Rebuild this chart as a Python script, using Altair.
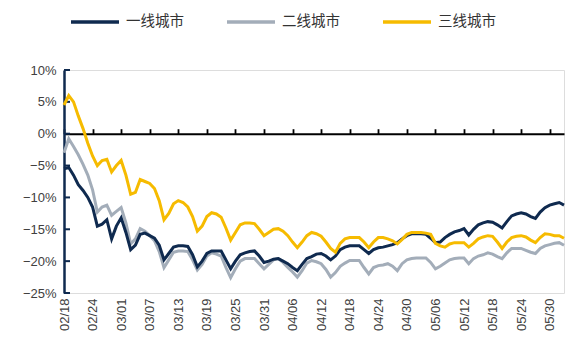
import altair as alt
import pandas as pd

start = "2020-02-18"
n_days = 106
series_names = ["一线城市", "二线城市", "三线城市"]
colors = ["#0f2a4f", "#a3adb9", "#f6bb00"]

tier1 = [-5.5, -5.3, -6.5, -8.0, -8.9, -10.0, -11.5, -14.5, -14.2, -13.5,
         -16.5, -14.5, -13.2, -15.5, -18.2, -17.5, -15.8, -15.6, -16.0, -16.4,
         -17.5, -19.8, -18.8, -17.8, -17.6, -17.6, -17.7, -19.0, -20.9, -20.0,
         -18.8, -18.4, -18.4, -18.4, -19.8, -21.2, -20.0, -19.0, -18.7, -18.5,
         -18.4, -19.2, -20.2, -20.0, -19.7, -19.6, -20.0, -20.4, -21.0, -21.5,
         -20.5, -19.6, -19.3, -18.9, -18.8, -19.2, -19.8, -19.2, -18.2, -17.8,
         -17.6, -17.6, -17.6, -18.2, -18.8, -18.2, -17.9, -17.8, -17.6, -17.4,
         -17.1, -16.5, -16.0, -15.7, -15.7, -15.7, -15.8, -16.4, -17.1, -17.0,
         -16.3, -15.8, -15.4, -15.2, -14.9, -15.9, -15.0, -14.3, -14.0, -13.8,
         -13.9, -14.3, -14.8, -13.8, -12.9, -12.6, -12.4, -12.6, -13.0, -13.3,
         -12.3, -11.6, -11.2, -11.0, -10.8, -11.2]

tier2 = [-3.0, -0.8, -2.0, -3.3, -4.8, -6.5, -8.8, -12.3, -11.5, -11.2,
         -12.8, -12.2, -11.6, -14.0, -17.3, -16.5, -14.9, -15.3, -16.0, -16.8,
         -18.5, -21.0, -19.8, -18.6, -18.4, -18.4, -18.5, -19.8, -21.4, -20.5,
         -19.2, -18.7, -18.9, -19.2, -21.0, -22.6, -21.2, -20.0, -19.6, -19.6,
         -19.6, -20.4, -21.2, -20.5, -19.8, -19.6, -20.2, -21.0, -21.7, -22.5,
         -21.5, -20.3, -19.9, -20.1, -20.4, -21.3, -22.5, -21.8, -20.8, -20.3,
         -19.9, -19.9, -19.9, -21.0, -22.0, -21.0, -20.7, -20.6, -20.4, -20.8,
         -21.5, -20.4, -19.8, -19.6, -19.5, -19.5, -19.5, -20.2, -21.2, -20.8,
         -20.3, -19.8, -19.6, -19.5, -19.5, -20.4, -19.6, -19.2, -19.0, -18.7,
         -18.9, -19.3, -19.6, -18.7, -18.0, -18.0, -18.0, -18.3, -18.6, -18.8,
         -18.0, -17.6, -17.4, -17.2, -17.1, -17.5]

tier3 = [4.5, 6.0, 5.0, 2.8, 0.8, -1.5, -3.5, -5.0, -4.2, -4.0,
         -6.0, -5.0, -4.2, -6.5, -9.5, -9.2, -7.2, -7.5, -7.8, -8.6,
         -10.5, -13.5, -12.5, -11.0, -10.5, -10.8, -11.5, -13.0, -15.3, -14.5,
         -13.0, -12.4, -12.6, -13.1, -14.8, -16.7, -15.5, -14.3, -14.0, -14.0,
         -14.1, -15.0, -16.0, -15.5, -15.0, -14.9, -15.3, -16.0, -17.0, -17.9,
         -17.0, -16.0, -15.5, -15.7, -16.1, -17.0, -18.0, -18.6, -17.2, -16.5,
         -16.3, -16.3, -16.3, -17.0, -17.9, -17.0, -16.3, -16.3, -16.5, -16.8,
         -17.3, -16.6, -15.8, -15.5, -15.5, -15.5, -15.6, -15.8, -17.2, -17.6,
         -17.8, -17.3, -17.1, -17.1, -17.1, -17.8, -17.2, -16.5, -16.2, -16.0,
         -16.1, -17.0, -18.0, -17.0, -16.3, -16.1, -16.0, -16.2, -16.7, -17.1,
         -16.3, -15.7, -15.8, -16.0, -16.0, -16.4]

y_ticks = [10, 5, 0, -5, -10, -15, -20, -25]
y_min, y_max = -25, 10
plot_w, plot_h = 500, 223

dates = pd.date_range(start, periods=n_days)
date_str = [d.strftime("%Y-%m-%dT00:00:00") for d in dates]
tick_idx = list(range(0, n_days, 6))
tick_dt = [alt.DateTime(year=int(dates[i].year), month=int(dates[i].month),
                        date=int(dates[i].day)) for i in tick_idx]

rows = []
for name, vals in zip(series_names, [tier1, tier2, tier3]):
    for d, v in zip(date_str, vals):
        rows.append({"date": d, "series": name, "value": v})
df = pd.DataFrame(rows)

ytick_df = pd.DataFrame({"v": y_ticks})

xscale = alt.Scale(domain=[date_str[0], date_str[-1]])
yscale = alt.Scale(domain=[y_min, y_max], nice=False)

x_axis = alt.Axis(values=tick_dt, format="%m/%d", labelAngle=-90,
                  domain=False, ticks=False, grid=False, labelPadding=5,
                  labelOverlap=False, title=None)
# zero-line axis: a top axis shifted down onto y = 0, ticks pointing up
zero_offset = -plot_h * y_max / (y_max - y_min)
x_zero_axis = alt.Axis(values=tick_dt, orient="top", offset=zero_offset,
                       labels=False, grid=False, domain=True, domainColor="black",
                       domainWidth=2, ticks=True, tickColor="black", tickWidth=1.8,
                       tickSize=5, title=None)
y_axis = alt.Axis(values=y_ticks, labelExpr="format(datum.value/100, '.0%')",
                  domainColor="#0f2a4f", domainWidth=2.5, ticks=False,
                  grid=False, labelPadding=8, labelOverlap=False, title=None)

color_enc = alt.Color("series:N",
                      scale=alt.Scale(domain=series_names, range=colors),
                      legend=alt.Legend(title=None, orient="none", direction="horizontal",
                                        legendX=5, legendY=-74,
                                        symbolType="stroke", symbolSize=2304,
                                        symbolStrokeWidth=3.5, labelFontSize=14.5,
                                        labelFont="Noto Sans CJK SC", labelColor="#333333",
                                        labelOffset=5, columnPadding=36))

base = alt.Chart(df).encode(
    x=alt.X("date:T", scale=xscale, axis=x_axis),
    y=alt.Y("value:Q", scale=yscale, axis=y_axis),
    color=color_enc)

lines = alt.layer(*[base.transform_filter(alt.datum.series == name).mark_line(strokeWidth=3)
                    for name in ["二线城市", "一线城市", "三线城市"]])

zero = alt.Chart(df).mark_point(opacity=0).encode(
    x=alt.X("date:T", scale=xscale, axis=x_zero_axis),
    y=alt.Y("value:Q", scale=yscale, axis=y_axis))

yticks = alt.Chart(ytick_df).mark_rule(color="#0f2a4f", strokeWidth=2).encode(
    y=alt.Y("v:Q", scale=yscale, axis=y_axis), x=alt.value(0), x2=alt.value(6))

chart = alt.layer(zero, yticks, lines).resolve_axis(x="independent").properties(
    width=plot_w, height=plot_h,
    autosize=alt.AutoSizeParams(type="none"),
    padding={"left": 64, "top": 70, "right": 2, "bottom": 59},
).configure_view(stroke=None).configure(background="white").configure_axis(
    labelOverlap=False, labelBound=False, labelFlush=False, labelFontSize=13,
    labelFont="Liberation Sans", labelColor="#404040")

chart.save("out.html", embed_options={"renderer": "svg", "actions": False})
